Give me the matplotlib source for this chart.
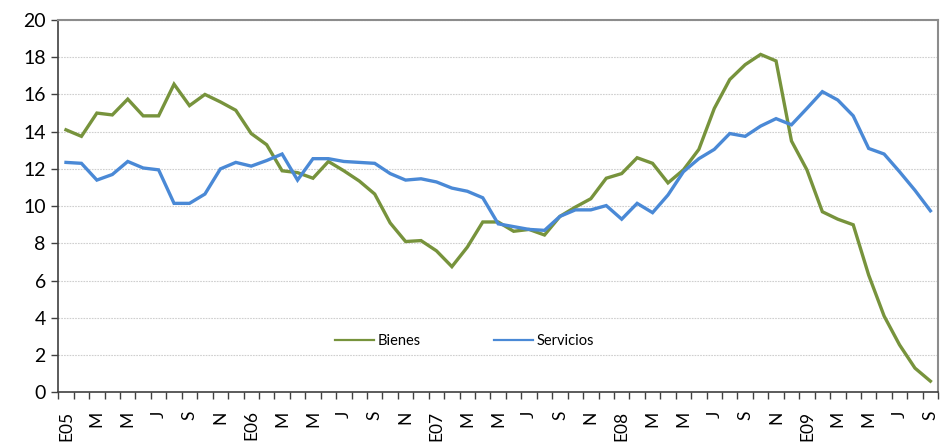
import numpy as np
import matplotlib.pyplot as plt
from matplotlib.ticker import FixedLocator

plt.rcParams['font.family'] = ['Lato', 'DejaVu Sans']

# monthly series, Jan 2005 - Sep 2009
bienes = [14.1, 13.75, 15.0, 14.9, 15.75, 14.85, 14.85, 16.55, 15.4, 16.0,
          15.6, 15.15, 13.9, 13.3, 11.9, 11.8, 11.5, 12.4, 11.9, 11.35,
          10.65, 9.1, 8.1, 8.15, 7.6, 6.75, 7.8, 9.15, 9.15, 8.65,
          8.75, 8.45, 9.45, 9.95, 10.4, 11.5, 11.75, 12.6, 12.3, 11.25,
          11.95, 13.05, 15.25, 16.8, 17.6, 18.15, 17.8, 13.5, 11.95, 9.7,
          9.3, 9.0, 6.3, 4.1, 2.55, 1.3, 0.6]
servicios = [12.35, 12.3, 11.4, 11.7, 12.4, 12.05, 11.95, 10.15, 10.15, 10.65,
             12.0, 12.35, 12.15, 12.45, 12.8, 11.4, 12.55, 12.55, 12.4, 12.35,
             12.3, 11.75, 11.4, 11.47, 11.3, 10.97, 10.8, 10.45, 9.05, 8.9,
             8.75, 8.7, 9.45, 9.8, 9.8, 10.03, 9.3, 10.15, 9.65, 10.6,
             11.85, 12.55, 13.05, 13.9, 13.75, 14.3, 14.7, 14.37, 15.25, 16.15,
             15.7, 14.85, 13.1, 12.8, 11.85, 10.85, 9.75]
month_letters = ['E', 'F', 'M', 'A', 'M', 'J', 'J', 'A', 'S', 'O', 'N', 'D']

n = len(bienes)
x = np.arange(n)
labels = []
for i in range(0, n, 2):
    m = i % 12
    if m == 0:
        labels.append('E%02d' % (5 + i // 12))
    else:
        labels.append(month_letters[m])

fig = plt.figure(figsize=(9.4, 4.43), dpi=100)
ax = fig.add_axes([0.062, 0.1144, 0.936, 0.8405])

ax.plot(x, bienes, color='#77933C', lw=2.4, label='Bienes', solid_joinstyle='miter')
ax.plot(x, servicios, color='#4A89D6', lw=2.4, label='Servicios', solid_joinstyle='miter')

ax.set_xlim(-0.5, n - 0.5)
ax.set_ylim(0, 20)
ax.set_yticks(np.arange(0, 21, 2))
ax.yaxis.grid(True, color='#CFCFCF', lw=0.8, linestyle=(0, (1.5, 1)))
ax.set_axisbelow(True)

ax.set_xticks(x[::2])
ax.set_xticklabels(labels, rotation=90)
ax.xaxis.set_minor_locator(FixedLocator(np.arange(-0.5, n, 1.0)))
ax.tick_params(axis='x', which='major', length=0, labelsize=12.5, pad=13)
ax.tick_params(axis='x', which='minor', length=5, width=1, color='#404040')
ax.tick_params(axis='y', length=5, width=1, color='#404040', labelsize=14, pad=4)

for side in ['top', 'right']:
    ax.spines[side].set_color('#8C8C8C')
    ax.spines[side].set_linewidth(1.5)
for side in ['left', 'bottom']:
    ax.spines[side].set_color('#404040')
    ax.spines[side].set_linewidth(1.2)

leg = ax.legend(loc='center', bbox_to_anchor=(0.462, 0.138), ncol=2, frameon=False,
                fontsize=10.5, handlelength=2.7, handletextpad=0.25, columnspacing=5.0)
for line in leg.get_lines():
    line.set_linewidth(1.6)

fig.savefig('out.png', dpi=100)
